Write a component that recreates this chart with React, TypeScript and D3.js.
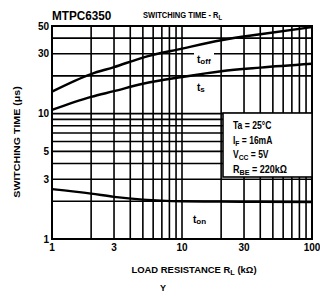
import React from "react";
import * as d3 from "d3";

const resistance = [1, 2, 3, 5, 10, 20, 40, 100];
const tOff = [15, 20.7, 23.5, 28, 33, 38.5, 43, 49];
const tS = [10.7, 13.6, 15.1, 17.3, 19.6, 21.8, 23.3, 25];
const tOn = [2.5, 2.3, 2.17, 2.06, 2.0, 1.99, 1.98, 1.97];

const xTicks = [1, 3, 10, 30, 100];
const yTicks = [1, 3, 5, 10, 30, 50];
const xGrid = [1, 2, 3, 4, 5, 6, 7, 8, 9, 10, 20, 30, 40, 50, 60, 70, 80, 90, 100];
const yGrid = [1, 2, 3, 4, 5, 6, 7, 8, 9, 10, 20, 30, 40, 50];
const conditions = [
  { main: "Ta", sub: "", rest: " = 25°C", s: 0.86 },
  { main: "I", sub: "F", rest: " = 16mA", s: 0.85 },
  { main: "V", sub: "CC", rest: " = 5V", s: 0.85 },
  { main: "R", sub: "BE", rest: " = 220kΩ", s: 0.9 },
];

const FONT = "'Liberation Sans', Arial, sans-serif";

export default function App() {
  const L = 52, R = 312, T = 26, B = 239;
  const x = d3.scaleLog().domain([1, 100]).range([L, R]);
  const y = d3.scaleLog().domain([1, 50]).range([B, T]);
  const line = d3
    .line<number>()
    .x((_, i) => x(resistance[i]))
    .y((d) => y(d))
    .curve(d3.curveMonotoneX);

  return (
    <svg
      width={320}
      height={297}
      style={{ position: "absolute", left: 0, top: 0, background: "#fff" }}
      fontFamily={FONT}
      fontWeight="bold"
    >
      <rect x={0} y={0} width={320} height={297} fill="#fff" />
      {xGrid.map((v) => (
        <line key={"x" + v} x1={x(v)} x2={x(v)} y1={T} y2={B} stroke="#000" strokeWidth={1.6} />
      ))}
      {yGrid.map((v) => (
        <line key={"y" + v} x1={L} x2={R} y1={y(v)} y2={y(v)} stroke="#000" strokeWidth={1.6} />
      ))}
      <rect x={L} y={T} width={R - L} height={B - T} fill="none" stroke="#000" strokeWidth={2} />

      {/* conditions box */}
      <rect x={223} y={113} width={R - 223} height={64} fill="#fff" stroke="#000" strokeWidth={1.6} />
      {conditions.map((c, i) => (
        <g key={i} transform={`translate(233,${129 + i * 14.5}) scale(${c.s},1)`}>
          <text x={0} y={0} fontSize={10} fill="#000">
            {c.main}
            {c.sub && (
              <tspan fontSize={8} dy={2}>
                {c.sub}
              </tspan>
            )}
            <tspan dy={c.sub ? -2 : 0}>{c.rest}</tspan>
          </text>
        </g>
      ))}

      <path d={line(tOff) || ""} fill="none" stroke="#000" strokeWidth={2.4} />
      <path d={line(tS) || ""} fill="none" stroke="#000" strokeWidth={2.4} />
      <path d={line(tOn) || ""} fill="none" stroke="#000" strokeWidth={2.4} />

      {/* curve labels */}
      <rect x={194} y={52} width={20} height={14} fill="#fff" />
      <text x={197} y={63} fontSize={10} fill="#000">
        t<tspan fontSize={8} dy={1}>off</tspan>
      </text>
      <rect x={195} y={80} width={12} height={14} fill="#fff" />
      <text x={197} y={91} fontSize={10} fill="#000">
        t<tspan fontSize={8} dy={1}>s</tspan>
      </text>
      <text x={193} y={223} fontSize={10} fill="#000">
        t<tspan fontSize={8} dy={1}>on</tspan>
      </text>

      {/* tick labels */}
      {yTicks.map((v) => (
        <text key={"yt" + v} x={L - 3} y={y(v) + 3.5} fontSize={10} textAnchor="end" fill="#000">
          {v}
        </text>
      ))}
      {xTicks.map((v) => (
        <text key={"xt" + v} x={x(v)} y={251} fontSize={10} textAnchor="middle" fill="#000">
          {v}
        </text>
      ))}

      {/* titles */}
      <g transform="translate(52,20) scale(0.94,1)">
        <text x={0} y={0} fontSize={12.5} fill="#000">MTPC6350</text>
      </g>
      <g transform="translate(143,18) scale(0.84,1)">
        <text x={0} y={0} fontSize={9} fill="#000">
          SWITCHING TIME - R<tspan fontSize={7} dy={1.5}>L</tspan>
        </text>
      </g>
      <g transform="translate(194,273) scale(1.05,1)">
        <text x={0} y={0} fontSize={9} textAnchor="middle" fill="#000">
          LOAD RESISTANCE R<tspan fontSize={7} dy={1.5}>L</tspan>
          <tspan dy={-1.5}> (kΩ)</tspan>
        </text>
      </g>
      <g transform="translate(20,142) rotate(-90) scale(1.18,1)">
        <text x={0} y={0} fontSize={9} textAnchor="middle" fill="#000">
          SWITCHING TIME (μs)
        </text>
      </g>
      <text x={163} y={291} fontSize={9} textAnchor="middle" fill="#000">Y</text>
    </svg>
  );
}
